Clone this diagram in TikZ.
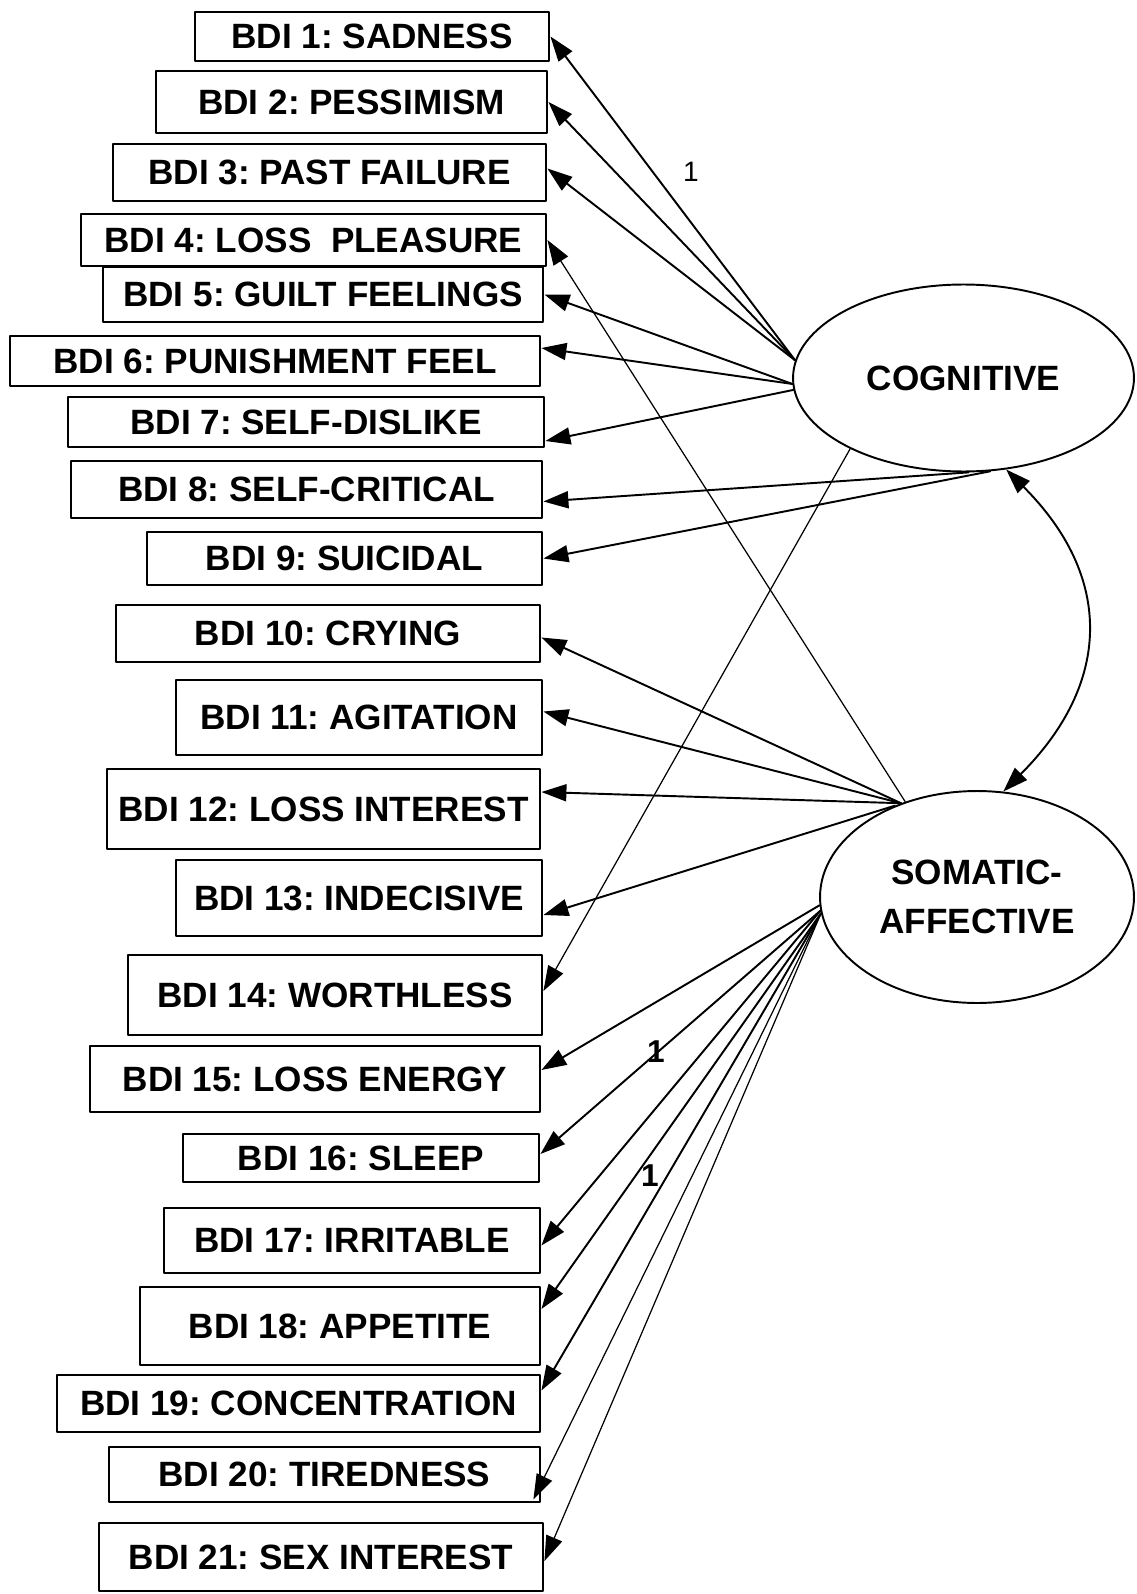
\documentclass[tikz,border=0pt]{standalone}
\usepackage{fontspec}
\setmainfont{Liberation Sans}
\usetikzlibrary{arrows.meta,calc,shapes.geometric}
\frenchspacing
\begin{document}
\begin{tikzpicture}[x=0.02cm, y=-0.02cm, font=\fontsize{20}{28}\selectfont\bfseries, line join=round, line cap=round,>={Triangle[length=0.5cm,width=0.34cm]},
	item/.style={draw, line width=1.6pt, inner sep=0pt},
	factor/.style={ellipse, draw, line width=1.1pt, inner sep=0pt, align=center},
	load/.style={->, line width=1.1pt},
	faint/.style={->, line width=0.7pt}]
	\useasboundingbox (0,0) rectangle (1136,1594);
	% items
	\foreach \n/\xa/\xb/\ya/\yb/\lab in {1/195/549/12/61/{BDI 1: SADNESS}, 2/156/547/71/133/{BDI 2: PESSIMISM},
		3/113/546/144/201/{BDI 3: PAST FAILURE}, 4/81/546/214/266/{BDI 4: LOSS~~PLEASURE},
		5/103/543/267/322/{BDI 5: GUILT FEELINGS}, 6/10/540/336/386/{BDI 6: PUNISHMENT FEEL},
		7/68/544/397/447/{BDI 7: SELF-DISLIKE}, 8/71/542/461/518/{BDI 8: SELF-CRITICAL},
		9/147/542/532/585/{BDI 9: SUICIDAL}, 10/116/540/605/662/{BDI 10: CRYING},
		11/176/542/680/755/{BDI 11: AGITATION}, 12/107/540/769/849/{BDI 12: LOSS INTEREST},
		13/176/542/860/936/{BDI 13: INDECISIVE}, 14/128/542/955/1035/{BDI 14: WORTHLESS},
		15/90/540/1046/1112/{BDI 15: LOSS ENERGY}, 16/183/539/1134/1182/{BDI 16: SLEEP},
		17/164/540/1208/1273/{BDI 17: IRRITABLE}, 18/140/540/1287/1365/{BDI 18: APPETITE},
		19/57/540/1375/1432/{BDI 19: CONCENTRATION}, 20/109/540/1447/1502/{BDI 20: TIREDNESS},
		21/99/543/1523/1591/{BDI 21: SEX INTEREST}}
	\node[item, minimum width={(\xb-\xa)*0.02cm}, minimum height={(\yb-\ya)*0.02cm}] (b\n) at ({(\xa+\xb)/2},{(\ya+\yb)/2}) {\lab};
	% factors
	\node[factor, minimum width=6.82cm, minimum height=3.74cm] (cog) at (963.5,378) {COGNITIVE};
	\node[factor, minimum width=6.28cm, minimum height=4.24cm] (som) at (977,897) {SOMATIC-\\AFFECTIVE};
	% loadings
	\foreach \i/\a/\dy in {1/174/0, 2/174/0, 3/174/-4, 5/182/0, 6/182/-13, 7/184/19, 8/273/12, 9/286/0}
	\draw[load] (cog.\a) -- ($(b\i.east)+(0,\dy)$);
	\draw[faint] (cog.212) -- ($(b14.east)+(0,-4)$);
	\draw[faint] (som.127) -- (b4.east);
	\foreach \i/\a/\dy in {10/129/4, 11/129/-6, 12/129/-17, 13/132/17, 15/183/-9, 16/185/-4, 17/185/5, 18/186/-17, 19/186/-13}
	\draw[load] (som.\a) -- ($(b\i.east)+(0,\dy)$);
	\draw[faint] (som.186) -- ($(b20.south east)+(-8,-4)$);
	\draw[faint] (som.186) -- ($(b21.east)+(0,4)$);
	\draw[<->, line width=1.1pt] (cog.295) .. controls +(108,108) and +(108,-108) .. (som.76);
	% fixed loadings
	\node[font=\fontsize{16}{16}\selectfont] (fix1) at (691,172) {1};
	\node[font=\fontsize{18}{18}\selectfont\bfseries] (fix2) at (656,1052) {1};
	\node[font=\fontsize{18}{18}\selectfont\bfseries] (fix3) at (650,1176) {1};
\end{tikzpicture}
\end{document}
